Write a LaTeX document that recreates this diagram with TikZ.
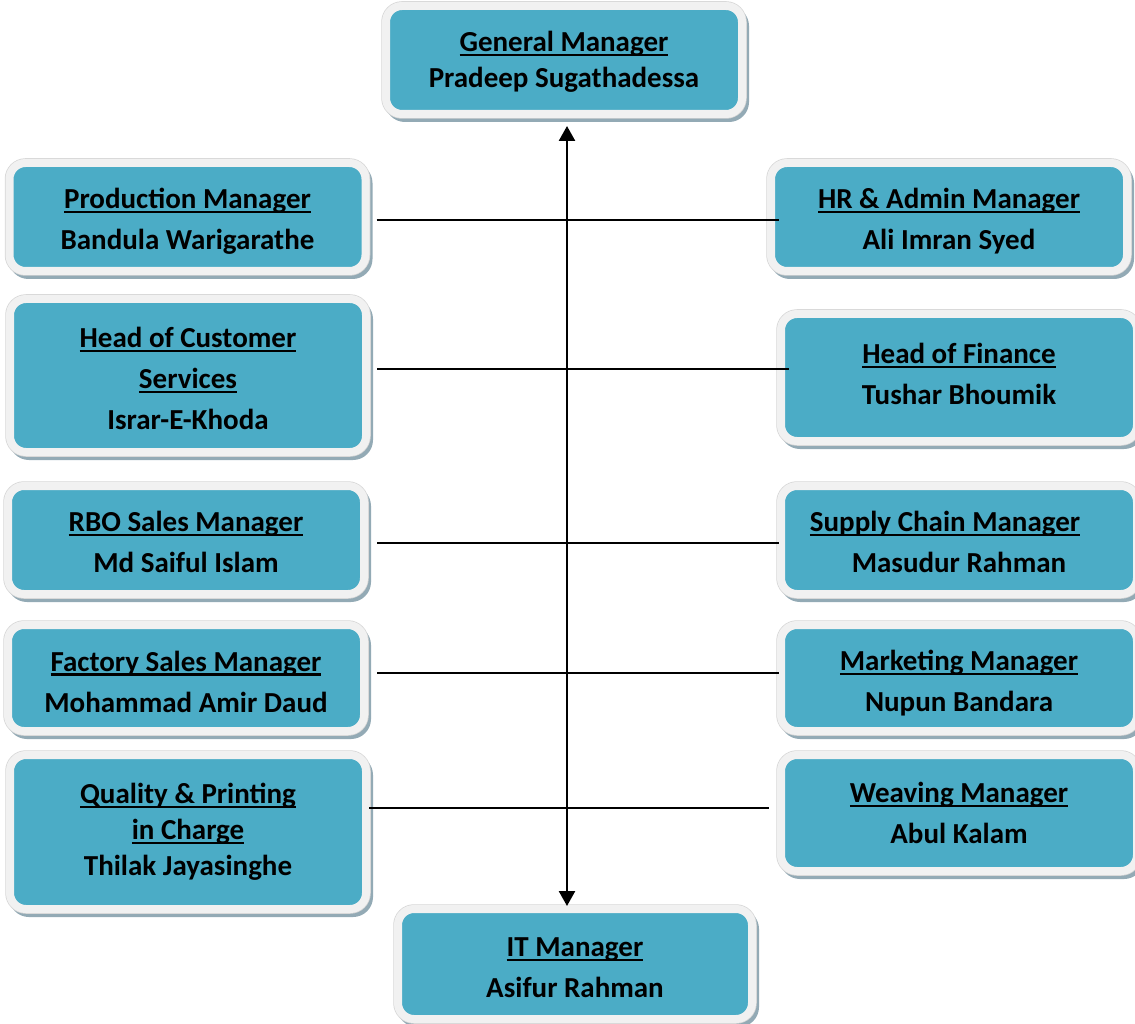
\documentclass[tikz,border=0pt]{standalone}
\usepackage{fontspec}
\setmainfont{Carlito}
\usetikzlibrary{arrows.meta}
\definecolor{boxblue}{HTML}{4BACC6}
\definecolor{rim}{HTML}{F1F1F1}
\definecolor{rimedge}{HTML}{D6D6D6}
\definecolor{shadowcol}{HTML}{93AAB5}
\newcommand{\ttl}[1]{\setbox0=\hbox{#1}\leavevmode\rlap{\rule[-4.5pt]{\wd0}{2.2pt}}\box0}
\tikzset{
  orgbox/.style={rounded corners=16pt, fill=boxblue, draw=rim, line width=8pt,
    preaction={draw=shadowcol, fill=shadowcol, line width=8pt, transform canvas={shift={(3pt,-4pt)}}},
    preaction={draw=rimedge, line width=9.5pt},
    inner sep=0pt, minimum width=356pt, minimum height=108pt},
  txt/.style={align=center, inner sep=0pt, text=black,
    font=\bfseries\fontsize{29}{41}\selectfont},
  tighttxt/.style={txt, font=\bfseries\fontsize{29}{36}\selectfont},
  link/.style={line width=1.5pt, draw=black},
  bigarrow/.style={line width=2.5pt, {Triangle[width=16pt,length=15pt]}-{Triangle[width=16pt,length=15pt]}}
}
\begin{document}
\begin{tikzpicture}[x=1pt,y=-1pt]
\useasboundingbox (0,0) rectangle (1135,1024);
% boxes
\node[orgbox] (gm) at (564,60) {};
\node[orgbox] (prod) at (187.5,217) {};
\node[orgbox] (hr) at (949,217) {};
\node[orgbox, minimum height=153pt] (hcs) at (188,375.5) {};
\node[orgbox, minimum height=127pt] (fin) at (959,377.5) {};
\node[orgbox] (rbo) at (186,540) {};
\node[orgbox] (sup) at (959,540) {};
\node[orgbox, minimum height=106pt] (fac) at (186,678) {};
\node[orgbox, minimum height=106pt] (mkt) at (959,678) {};
\node[orgbox, minimum height=154pt] (qual) at (188,832) {};
\node[orgbox, minimum height=116pt] (wev) at (959,813) {};
\node[orgbox, minimum width=354pt, minimum height=110pt] (it) at (575,964) {};
% texts
\node[tighttxt] (gmt) at ([yshift=-2pt]gm.center) {\ttl{General Manager}\\ Pradeep Sugathadessa};
\node[txt] (prodt) at ([yshift=-4pt]prod.center) {\ttl{Production Manager}\\ Bandula Warigarathe};
\node[txt] (hrt) at ([yshift=-4pt]hr.center) {\ttl{HR \& Admin Manager}\\ Ali Imran Syed};
\node[txt] (hcst) at ([yshift=-3pt]hcs.center) {\ttl{Head of Customer}\\ \ttl{Services}\\ Israr-E-Khoda};
\node[txt] (fint) at ([yshift=3.5pt]fin.center) {\ttl{Head of Finance}\\ Tushar Bhoumik};
\node[txt] (rbot) at ([yshift=-2pt]rbo.center) {\ttl{RBO Sales Manager}\\ Md Saiful Islam};
\node[txt] (supt) at ([yshift=-2pt]sup.center) {\ttl{Supply Chain Manager}\rule{28pt}{0pt}\\ Masudur Rahman};
\node[txt] (fact) at ([yshift=-3.5pt]fac.center) {\ttl{Factory Sales Manager}\\ Mohammad Amir Daud};
\node[txt] (mktt) at ([yshift=-5pt]mkt.center) {\ttl{Marketing Manager}\\ Nupun Bandara};
\node[tighttxt] (qualt) at (qual.center) {\ttl{Quality \& Printing}\\ \ttl{in Charge}\\ Thilak Jayasinghe};
\node[txt] (wevt) at (wev.center) {\ttl{Weaving Manager}\\ Abul Kalam};
\node[txt] (itt) at ([yshift=-3.5pt]it.center) {\ttl{IT Manager}\\ Asifur Rahman};
% connectors
\draw[link] ([xshift=7pt,yshift=-3pt]prod.east) -- ([xshift=12pt,yshift=-3pt]hr.west);
\draw[link] ([xshift=7pt,yshift=6.5pt]hcs.east) -- ([xshift=12pt,yshift=8.5pt]fin.west);
\draw[link] ([xshift=9pt,yshift=-3pt]rbo.east) -- ([xshift=2pt,yshift=-3pt]sup.west);
\draw[link] ([xshift=9pt,yshift=5pt]fac.east) -- ([xshift=2pt,yshift=5pt]mkt.west);
\draw[link] ([xshift=-1pt,yshift=24pt]qual.east) -- ([xshift=-8pt,yshift=5pt]wev.west);
\draw[bigarrow] ([xshift=3pt,yshift=-8pt]gm.south) -- ([xshift=-8pt,yshift=-1pt]it.north);
\end{tikzpicture}
\end{document}
